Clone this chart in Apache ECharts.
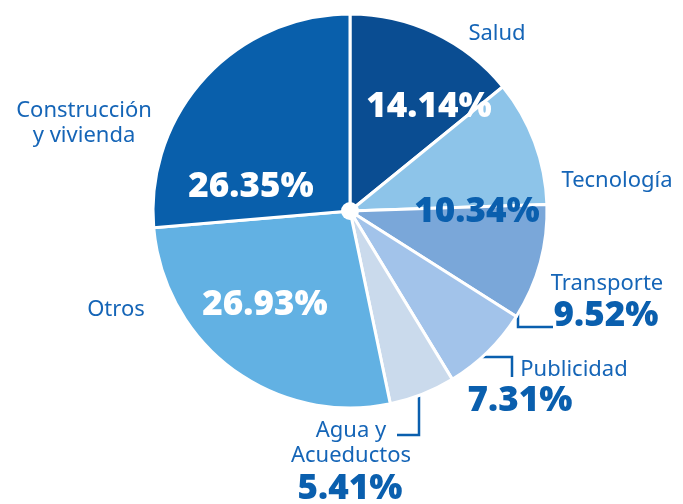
<!DOCTYPE html>
<html>
<head>
<meta charset="utf-8">
<script src="https://cdn.jsdelivr.net/npm/echarts@6/dist/echarts.min.js"></script>
<style>
  html, body { margin: 0; padding: 0; background: #fff; }
  #main { width: 683px; height: 504px; }
</style>
</head>
<body>
<div id="main"></div>
<script>
// datos
var categories = ['Salud', 'Tecnología', 'Transporte', 'Publicidad', 'Agua y\nAcueductos', 'Otros', 'Construcción\ny vivienda'];
var values = [14.14, 10.34, 9.52, 7.31, 5.41, 26.93, 26.35];
var colors = ['#0a4d92', '#8dc4e9', '#7aa7d9', '#a2c3ea', '#cadaec', '#62b1e3', '#095fab'];

// posiciones de las etiquetas (nombre y porcentaje)
var namePos = [[497, 34], [617, 181], [607, 284], [574, 370], [351, 443], [116, 310], [84, 123]];
var pctPos = [[429, 107], [477, 212], [606, 316], [520, 401], [350, 489], [265, 305], [251, 187]];
var pctColor = ['#fff', '#0a5fae', '#0a5fae', '#0a5fae', '#0a5fae', '#fff', '#fff'];

var myChart = echarts.init(document.getElementById('main'));

var data = categories.map(function (c, i) {
    return { name: c, value: values[i], itemStyle: { color: colors[i] } };
});
var pctData = categories.map(function (c, i) {
    return {
        name: c, value: values[i],
        label: { color: pctColor[i] }
    };
});

var center = [350, 211];
var radius = 197;

var option = {
    animation: false,
    series: [
        {
            type: 'pie',
            center: center,
            radius: [0, radius],
            startAngle: 90,
            clockwise: true,
            itemStyle: { borderColor: '#fff', borderWidth: 3 },
            label: {
                show: true,
                formatter: '{b}',
                fontFamily: 'Noto Sans',
                fontSize: 22,
                color: '#1565b7',
                lineHeight: 25,
                align: 'center',
                width: 220,
                overflow: 'none'
            },
            labelLine: { show: false },
            labelLayout: function (p) {
                var pos = namePos[p.dataIndex];
                return { x: pos[0], y: pos[1], align: 'center', verticalAlign: 'middle' };
            },
            emphasis: { disabled: true },
            data: data
        },
        {
            type: 'pie',
            center: center,
            radius: [0, radius],
            startAngle: 90,
            clockwise: true,
            silent: true,
            itemStyle: { color: 'rgba(0,0,0,0)' },
            label: {
                show: true,
                formatter: function (p) { return p.value.toFixed(2) + '%'; },
                fontFamily: 'Open Sans',
                fontWeight: 800,
                fontSize: 35,
                width: 220,
                overflow: 'none'
            },
            labelLine: { show: false },
            labelLayout: function (p) {
                var pos = pctPos[p.dataIndex];
                return { x: pos[0], y: pos[1], align: 'center', verticalAlign: 'middle' };
            },
            emphasis: { disabled: true },
            data: pctData
        }
    ],
    graphic: [
        { type: 'circle', shape: { cx: center[0], cy: center[1], r: 9 }, style: { fill: '#fff' }, z: 100 },
        // corchetes de las etiquetas
        { type: 'polyline', shape: { points: [[518, 301], [518, 327], [553, 327]] }, style: { stroke: '#0a5fae', lineWidth: 2.5, fill: null } },
        { type: 'polyline', shape: { points: [[473, 357], [512, 357], [512, 377]] }, style: { stroke: '#0a5fae', lineWidth: 2.5, fill: null } },
        { type: 'polyline', shape: { points: [[419, 395], [419, 435], [397, 435]] }, style: { stroke: '#0a5fae', lineWidth: 2.5, fill: null } }
    ]
};
myChart.setOption(option);
</script>
</body>
</html>
